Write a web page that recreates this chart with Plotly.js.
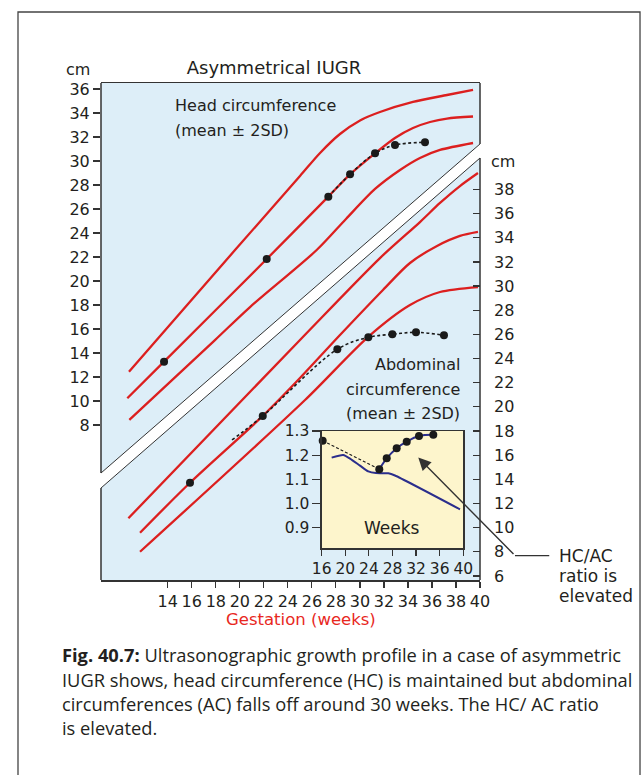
<!DOCTYPE html>
<html><head><meta charset="utf-8">
<script src="https://cdn.plot.ly/plotly-3.0.1.min.js"></script>
<style>html,body{margin:0;padding:0;background:#fff;}#chart{width:644px;height:775px;}</style>
</head><body><div id="chart"></div>
<script>
// ---------------- data ----------------
const weekTicks = [14,16,18,20,22,24,26,28,30,32,34,36,38,40];
const hcTicks = [8,10,12,14,16,18,20,22,24,26,28,30,32,34,36];
const acTicks = [6,8,10,12,14,16,18,20,22,24,26,28,30,32,34,36,38];
const insetWeekTicks = [16,20,24,28,32,36,40];
const ratioTicks = [0.9,1.0,1.1,1.2,1.3];
const ratioTickText = ['0.9','1.0','1.1','1.2','1.3'];

// head circumference reference curves (mean ± 2SD), left axis
const hcUpperWeeks = [10.77,19.60,25.01,26.68,28.34,30.01,31.67,34.42,37.25,39.42];
const hcUpperCm    = [12.44,22.58,28.75,30.67,32.25,33.38,34.08,34.92,35.50,35.92];
const hcMeanWeeks  = [10.63,13.69,22.24,27.37,29.18,31.26,32.92,34.42,35.84,37.25,39.42];
const hcMeanCm     = [10.23,13.28,21.83,27.03,28.89,30.64,31.92,32.75,33.25,33.54,33.71];
const hcLowerWeeks = [10.80,17.93,20.85,26.40,28.84,31.26,33.34,35.00,36.67,39.42];
const hcLowerCm    = [8.42,15.08,17.83,22.58,25.17,27.67,29.25,30.25,30.92,31.50];

// abdominal circumference reference curves (mean ± 2SD), right axis
const acUpperWeeks = [10.72,25.01,31.67,35.00,36.67,38.33,39.83];
const acUpperCm    = [10.78,25.54,32.32,35.30,36.88,38.28,39.36];
const acMeanWeeks  = [11.69,15.85,21.91,25.01,28.34,31.92,34.17,36.42,38.33,39.83];
const acMeanCm     = [9.58,13.72,19.25,22.39,25.95,29.68,31.91,33.32,34.15,34.48];
const acLowerWeeks = [11.69,25.43,30.67,34.17,36.67,39.83];
const acLowerCm    = [8.01,20.57,25.78,28.43,29.51,29.92];

// patient measurements
const hcPatientWeeks = [13.69,22.24,27.37,29.18,31.26,32.92,35.42];
const hcPatientCm    = [13.28,21.83,27.03,28.89,30.64,31.33,31.56];
const acPatientWeeks = [15.85,21.91,28.12,30.70,32.70,34.67,37.00];
const acPatientCm    = [13.72,19.25,24.77,25.76,26.01,26.17,25.93];
const acTrendStartWeek = 19.35, acTrendStartCm = 17.26;

// separator band between the two charts (left-axis units)
const bandWeeks    = [8.44, 40];
const bandUpperCm  = [4.00, 31.42];
const bandLowerCm  = [2.75, 30.25];

// inset: HC/AC ratio
const ratioNormalWeeks  = [17.69,19.66,20.80,22.49,23.90,25.20,27.29,28.42,39.44];
const ratioNormal       = [1.190,1.201,1.186,1.157,1.133,1.126,1.125,1.116,0.976];
const ratioPatientWeeks = [16.17,25.76,27.02,28.71,30.41,32.49,34.92];
const ratioPatient      = [1.260,1.142,1.187,1.229,1.256,1.279,1.284];

// ---------------- styles ----------------
const RED = '#dc1f1f', DOT = '#1a1a1a', INK = '#231f20', BLUE = '#2b2e8c', EDGE = '#333333';
const WEEK_RANGE = [8.44, 40], HC_RANGE = [-4.917, 36.5], AC_RANGE = [5.67, 46.81];
const INSET_X = [16, 40], INSET_Y = [0.815, 1.3];
const FONT = 'DejaVu Sans';

function redLine(x, y, yaxis) {
  return {x, y, yaxis: yaxis || 'y', xaxis: 'x', mode: 'lines', hoverinfo: 'skip',
          line: {color: RED, width: 2.3, shape: 'spline', smoothing: 0.8}};
}

const traces = [];
// band
traces.push({x: [bandWeeks[0], bandWeeks[1], bandWeeks[1], bandWeeks[0]],
             y: [bandUpperCm[0], bandUpperCm[1], bandLowerCm[1], bandLowerCm[0]],
             fill: 'toself', fillcolor: '#ffffff', mode: 'lines', line: {width: 0}, hoverinfo: 'skip'});
traces.push({x: bandWeeks, y: bandUpperCm, mode: 'lines', line: {color: EDGE, width: 1}, hoverinfo: 'skip'});
traces.push({x: bandWeeks, y: bandLowerCm, mode: 'lines', line: {color: EDGE, width: 1}, hoverinfo: 'skip'});
// HC curves
traces.push(redLine(hcUpperWeeks, hcUpperCm));
traces.push(redLine(hcMeanWeeks, hcMeanCm));
traces.push(redLine(hcLowerWeeks, hcLowerCm));
// AC curves
traces.push(redLine(acUpperWeeks, acUpperCm, 'y2'));
traces.push(redLine(acMeanWeeks, acMeanCm, 'y2'));
traces.push(redLine(acLowerWeeks, acLowerCm, 'y2'));
// patient HC
traces.push({x: hcPatientWeeks.slice(2), y: hcPatientCm.slice(2), mode: 'lines', hoverinfo: 'skip',
             line: {color: DOT, width: 1.6, dash: '3px,2.5px', shape: 'spline'}});
traces.push({x: hcPatientWeeks, y: hcPatientCm, mode: 'markers', cliponaxis: false, hoverinfo: 'skip',
             marker: {color: DOT, size: 8}});
// patient AC
traces.push({x: [acTrendStartWeek].concat(acPatientWeeks.slice(1)), y: [acTrendStartCm].concat(acPatientCm.slice(1)),
             yaxis: 'y2', mode: 'lines', hoverinfo: 'skip',
             line: {color: DOT, width: 1.6, dash: '3px,2.5px', shape: 'spline'}});
traces.push({x: acPatientWeeks, y: acPatientCm, yaxis: 'y2', mode: 'markers', cliponaxis: false, hoverinfo: 'skip',
             marker: {color: DOT, size: 8}});
// inset
traces.push({x: ratioNormalWeeks, y: ratioNormal, xaxis: 'x3', yaxis: 'y3', mode: 'lines', hoverinfo: 'skip',
             line: {color: BLUE, width: 2, shape: 'spline', smoothing: 0.6}});
traces.push({x: ratioPatientWeeks.slice(0, 2), y: ratioPatient.slice(0, 2), xaxis: 'x3', yaxis: 'y3', mode: 'lines',
             hoverinfo: 'skip', line: {color: DOT, width: 1.1, dash: '3px,2px'}});
traces.push({x: ratioPatientWeeks.slice(1), y: ratioPatient.slice(1), xaxis: 'x3', yaxis: 'y3', mode: 'lines',
             hoverinfo: 'skip', line: {color: BLUE, width: 2, shape: 'spline'}});
traces.push({x: ratioPatientWeeks, y: ratioPatient, xaxis: 'x3', yaxis: 'y3', mode: 'markers', cliponaxis: false,
             hoverinfo: 'skip', marker: {color: DOT, size: 8}});

const tickFont = {family: FONT, size: 16, color: INK};
function ann(text, x, y, opts) {
  return Object.assign({text, x, y, xref: 'paper', yref: 'paper', showarrow: false,
    xanchor: 'center', yanchor: 'middle', font: {family: FONT, size: 16, color: INK}}, opts || {});
}
const capFont = {family: 'Open Sans', size: 18.3, color: INK};

const layout = {
  width: 644, height: 775,
  margin: {l: 101, r: 164, t: 83, b: 195, pad: 0},
  paper_bgcolor: '#ffffff', plot_bgcolor: 'rgba(0,0,0,0)',
  showlegend: false,
  font: {family: FONT, color: INK},
  title: {text: 'Asymmetrical IUGR', xref: 'paper', x: 0.4565, xanchor: 'center',
          yref: 'container', y: 1 - 68/775, yanchor: 'middle', font: {family: FONT, size: 18, color: INK}},
  xaxis: {range: WEEK_RANGE, tickvals: weekTicks, ticks: 'outside', ticklen: 6, tickwidth: 1.2, tickcolor: EDGE,
          showgrid: false, zeroline: false, showline: true, mirror: true, linecolor: EDGE, linewidth: 1.5,
          tickfont: tickFont, tickangle: 0, fixedrange: true},
  yaxis: {range: HC_RANGE, tickvals: hcTicks, ticks: 'outside', ticklen: 7, tickwidth: 1.2, tickcolor: EDGE,
          showgrid: false, zeroline: false, showline: false, tickfont: tickFont, fixedrange: true},
  yaxis2: {range: AC_RANGE, overlaying: 'y', side: 'right', anchor: 'x', tickvals: acTicks, ticks: 'inside',
           ticklen: 7, tickwidth: 1.2, tickcolor: EDGE, ticklabelstandoff: 13, showgrid: false, zeroline: false,
           showline: false, tickfont: tickFont, fixedrange: true},
  xaxis3: {domain: [0.5823, 0.9559], anchor: 'y3', range: INSET_X, tickvals: insetWeekTicks, ticks: 'outside',
           ticklen: 6, tickwidth: 1.2, tickcolor: EDGE, showgrid: false, zeroline: false, showline: true, mirror: true,
           linecolor: EDGE, linewidth: 1.3, tickfont: {family: FONT, size: 15.5, color: INK}, tickangle: 0, fixedrange: true},
  yaxis3: {domain: [0.0638, 0.2998], anchor: 'x3', range: INSET_Y, tickvals: ratioTicks, ticktext: ratioTickText,
           ticks: 'outside', ticklen: 8, tickwidth: 1.2, tickcolor: EDGE, showgrid: false, zeroline: false,
           showline: true, mirror: true, linecolor: EDGE, linewidth: 1.3,
           tickfont: {family: FONT, size: 15.5, color: INK}, fixedrange: true},
  shapes: [
    // backgrounds
    {type: 'rect', layer: 'below', xref: 'paper', yref: 'paper', x0: 0, x1: 1, y0: 0, y1: 1,
     fillcolor: '#ddeef8', line: {width: 0}},
    {type: 'rect', layer: 'below', xref: 'x3 domain', yref: 'y3 domain', x0: 0, x1: 1, y0: 0, y1: 1,
     fillcolor: '#fdf5cc', line: {width: 0}},
    // left & right spines, broken by the band
    {type: 'line', layer: 'above', xref: 'paper', yref: 'y', x0: 0, x1: 0, y0: HC_RANGE[0], y1: bandLowerCm[0], line: {color: EDGE, width: 1.5}},
    {type: 'line', layer: 'above', xref: 'paper', yref: 'y', x0: 0, x1: 0, y0: bandUpperCm[0], y1: HC_RANGE[1], line: {color: EDGE, width: 1.5}},
    {type: 'line', layer: 'above', xref: 'paper', yref: 'y', x0: 1, x1: 1, y0: HC_RANGE[0], y1: bandLowerCm[1], line: {color: EDGE, width: 1.5}},
    {type: 'line', layer: 'above', xref: 'paper', yref: 'y', x0: 1, x1: 1, y0: bandUpperCm[1], y1: HC_RANGE[1], line: {color: EDGE, width: 1.5}},
    // callout connector
    {type: 'line', layer: 'above', xref: 'paper', yref: 'paper', x0: 1.0923, x1: 1.1827, y0: 0.0489, y1: 0.0489, line: {color: EDGE, width: 1.3}},
    // outer frame
    {type: 'rect', layer: 'above', xref: 'paper', yref: 'paper', x0: -0.219, x1: 1.4222, y0: -0.4225, y1: 1.1429,
     line: {color: '#444', width: 1.3}, fillcolor: 'rgba(0,0,0,0)'}
  ],
  annotations: [
    ann('cm', -0.062, 1.027),
    ann('cm', 1.062, 0.843),
    ann('Head circumference', 0.19, 0.9557, {xanchor: 'left'}),
    ann('(mean \u00b1 2SD)', 0.19, 0.9044, {xanchor: 'left'}),
    ann('Abdominal', 0.9525, 0.4326, {xanchor: 'right'}),
    ann('circumference', 0.9525, 0.3843, {xanchor: 'right'}),
    ann('(mean \u00b1 2SD)', 0.9525, 0.336, {xanchor: 'right'}),
    ann('Weeks', 0.7678, 0.1046, {font: {family: FONT, size: 17, color: INK}}),
    ann('HC/AC', 1.2024, 0.0483, {xanchor: 'left', font: {family: FONT, size: 17, color: INK}}),
    ann('ratio is', 1.2024, 0.0090, {xanchor: 'left', font: {family: FONT, size: 17, color: INK}}),
    ann('elevated', 1.2024, -0.0312, {xanchor: 'left', font: {family: FONT, size: 17, color: INK}}),
    ann('Gestation (weeks)', 0.5277, -0.0785, {font: {family: FONT, size: 16.5, color: '#e8281e'}}),
    {text: '', xref: 'x3', yref: 'y3', x: 32.37, y: 1.19, ax: 96.7, ay: 98, showarrow: true,
     arrowhead: 2, arrowsize: 1.8, arrowwidth: 1.4, arrowcolor: EDGE, standoff: 0},
    ann('<b>Fig. 40.7:</b> Ultrasonographic growth profile in a case of asymmetric', -0.1082, -0.1509, {xanchor: 'left', font: capFont}),
    ann('IUGR shows, head circumference (HC) is maintained but abdominal', -0.1082, -0.1992, {xanchor: 'left', font: capFont}),
    ann('circumferences (AC) falls off around 30 weeks. The HC/ AC ratio', -0.1082, -0.2475, {xanchor: 'left', font: capFont}),
    ann('is elevated.', -0.1082, -0.2958, {xanchor: 'left', font: capFont})
  ]
};

Plotly.newPlot('chart', traces, layout, {staticPlot: true, displayModeBar: false});
</script>
</body></html>
